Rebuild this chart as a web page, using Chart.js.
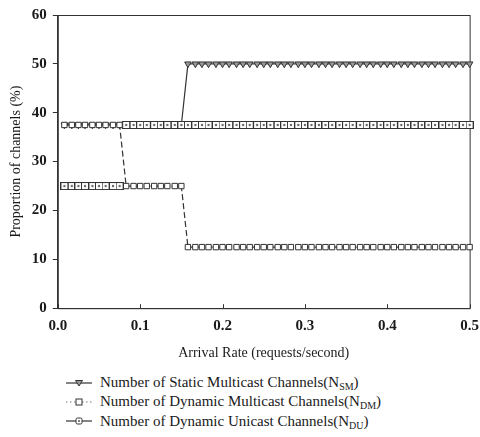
<!DOCTYPE html>
<html>
<head>
<meta charset="utf-8">
<script src="https://cdn.jsdelivr.net/npm/chart.js@4.4.0/dist/chart.umd.min.js"></script>
<style>
    body { margin: 0; background: #fff; }
    #wrap { position: relative; width: 480px; height: 437px; overflow: hidden; font-family: "Liberation Serif", "Times New Roman", serif; color: #1a1a1a; }
    #box { position: absolute; left: 0; top: 0; width: 488px; height: 365px; }
    .legend { position: absolute; left: 64px; top: 373px; font-size: 15px; line-height: 19.5px; }
    .legend div { display: flex; align-items: center; height: 19.3px; }
    .legend svg { margin-right: 6px; }
    .legend sub { font-size: 10px; vertical-align: -3px; line-height: 0; }
</style>
</head>
<body>
<div id="wrap">
    <div id="box"><canvas id="chart"></canvas></div>
    <div class="legend">
        <div>
            <svg width="30" height="10"><line x1="2" y1="5" x2="28" y2="5" stroke="#333" stroke-width="1.2"/><polygon points="11.5,2.5 18.5,2.5 15,8" fill="#999" stroke="#333" stroke-width="1"/></svg>
            <span>Number of Static Multicast Channels(N<sub>SM</sub>)</span>
        </div>
        <div>
            <svg width="30" height="10"><line x1="2" y1="5" x2="28" y2="5" stroke="#777" stroke-width="1.2" stroke-dasharray="1.5,2.5"/><rect x="12" y="2" width="6" height="6" fill="#fff" stroke="#333" stroke-width="1"/></svg>
            <span>Number of Dynamic Multicast Channels(N<sub>DM</sub>)</span>
        </div>
        <div>
            <svg width="30" height="10"><line x1="2" y1="5" x2="28" y2="5" stroke="#333" stroke-width="1.2"/><rect x="12" y="2" width="6" height="6" rx="1.5" fill="#fff" stroke="#333" stroke-width="1"/><circle cx="15" cy="5" r="1" fill="#555"/></svg>
            <span>Number of Dynamic Unicast Channels(N<sub>DU</sub>)</span>
        </div>
    </div>
</div>
<script>
// arrival rate (requests/second)
const arrivalRate = [
    0.008, 0.017, 0.025, 0.033, 0.042, 0.05, 0.058, 0.067, 0.075, 0.083,
    0.092, 0.1, 0.108, 0.117, 0.125, 0.133, 0.142, 0.15, 0.158, 0.167,
    0.175, 0.183, 0.192, 0.2, 0.208, 0.217, 0.225, 0.233, 0.242, 0.25,
    0.258, 0.267, 0.275, 0.283, 0.292, 0.3, 0.308, 0.317, 0.325, 0.333,
    0.342, 0.35, 0.358, 0.367, 0.375, 0.383, 0.392, 0.4, 0.408, 0.417,
    0.425, 0.433, 0.442, 0.45, 0.458, 0.467, 0.475, 0.483, 0.492, 0.5,
]
// proportion of channels (%)
const staticMulticast = [
    37.5, 37.5, 37.5, 37.5, 37.5, 37.5, 37.5, 37.5, 37.5, 37.5,
    37.5, 37.5, 37.5, 37.5, 37.5, 37.5, 37.5, 37.5, 50, 50,
    50, 50, 50, 50, 50, 50, 50, 50, 50, 50,
    50, 50, 50, 50, 50, 50, 50, 50, 50, 50,
    50, 50, 50, 50, 50, 50, 50, 50, 50, 50,
    50, 50, 50, 50, 50, 50, 50, 50, 50, 50,
]
const dynamicMulticast = [
    37.5, 37.5, 37.5, 37.5, 37.5, 37.5, 37.5, 37.5, 37.5, 25,
    25, 25, 25, 25, 25, 25, 25, 25, 12.5, 12.5,
    12.5, 12.5, 12.5, 12.5, 12.5, 12.5, 12.5, 12.5, 12.5, 12.5,
    12.5, 12.5, 12.5, 12.5, 12.5, 12.5, 12.5, 12.5, 12.5, 12.5,
    12.5, 12.5, 12.5, 12.5, 12.5, 12.5, 12.5, 12.5, 12.5, 12.5,
    12.5, 12.5, 12.5, 12.5, 12.5, 12.5, 12.5, 12.5, 12.5, 12.5,
]
const dynamicUnicast = [
    25, 25, 25, 25, 25, 25, 25, 25, 25, 37.5,
    37.5, 37.5, 37.5, 37.5, 37.5, 37.5, 37.5, 37.5, 37.5, 37.5,
    37.5, 37.5, 37.5, 37.5, 37.5, 37.5, 37.5, 37.5, 37.5, 37.5,
    37.5, 37.5, 37.5, 37.5, 37.5, 37.5, 37.5, 37.5, 37.5, 37.5,
    37.5, 37.5, 37.5, 37.5, 37.5, 37.5, 37.5, 37.5, 37.5, 37.5,
    37.5, 37.5, 37.5, 37.5, 37.5, 37.5, 37.5, 37.5, 37.5, 37.5,
]

const toPoints = (ys) => arrivalRate.map((x, i) => ({ x: x, y: ys[i] }))

// small square with a dot inside for the unicast markers
const duMarker = document.createElement("canvas")
duMarker.width = 8
duMarker.height = 8
const mctx = duMarker.getContext("2d")
mctx.fillStyle = "#fff"
mctx.fillRect(0.5, 0.5, 7, 7)
mctx.strokeStyle = "#333"
mctx.lineWidth = 1
mctx.strokeRect(0.5, 0.5, 7, 7)
mctx.fillStyle = "#666"
mctx.beginPath()
mctx.arc(4, 4, 1.2, 0, Math.PI * 2)
mctx.fill()

// box frame and inward ticks on the x axis
const frame = {
    id: "frame",
    beforeDatasetsDraw(chart) {
        const { ctx, chartArea: a, scales } = chart
        ctx.save()
        ctx.strokeStyle = "#333"
        ctx.lineWidth = 1
        ctx.strokeRect(a.left + 0.5, a.top + 0.5, a.right - a.left, a.bottom - a.top)
        scales.x.ticks.forEach((t) => {
            const px = Math.round(scales.x.getPixelForValue(t.value)) + 0.5
            ctx.beginPath()
            ctx.moveTo(px, a.bottom)
            ctx.lineTo(px, a.bottom - 4)
            ctx.stroke()
        })
        ctx.restore()
    },
}

const tickFont = { family: "'Liberation Serif', 'Times New Roman', serif", size: 15, weight: "bold" }
const titleFont = { family: "'Liberation Serif', 'Times New Roman', serif", size: 14 }

new Chart(document.getElementById("chart"), {
    type: "line",
    data: {
        datasets: [
            {
                label: "Number of Static Multicast Channels(NSM)",
                data: toPoints(staticMulticast),
                borderColor: "#333",
                borderWidth: 1.2,
                pointStyle: "triangle",
                pointRotation: 180,
                pointRadius: 3.8,
                pointBackgroundColor: "#999",
                pointBorderColor: "#333",
                pointBorderWidth: 1,
                order: 3,
            },
            {
                label: "Number of Dynamic Multicast Channels(NDM)",
                data: toPoints(dynamicMulticast),
                borderColor: "#333",
                borderWidth: 1.2,
                borderDash: [6, 3],
                pointStyle: "rect",
                pointRadius: 3.8,
                pointBackgroundColor: "#fff",
                pointBorderColor: "#333",
                pointBorderWidth: 1,
                order: 1,
            },
            {
                label: "Number of Dynamic Unicast Channels(NDU)",
                data: toPoints(dynamicUnicast),
                borderColor: "#333",
                borderWidth: 1.2,
                pointStyle: duMarker,
                segment: {
                    borderColor: (c) =>
                        c.p0.parsed.y !== c.p1.parsed.y ? "rgba(0,0,0,0)" : "#333",
                },
                order: 2,
            },
        ],
    },
    options: {
        responsive: true,
        maintainAspectRatio: false,
        animation: false,
        clip: false,
        layout: { padding: { left: 8, right: 0, top: 7, bottom: 3 } },
        plugins: { legend: { display: false }, tooltip: { enabled: false } },
        scales: {
            x: {
                type: "linear",
                min: 0,
                max: 0.5,
                border: { color: "#333", width: 1 },
                grid: { drawOnChartArea: false, drawTicks: false },
                ticks: {
                    stepSize: 0.1,
                    color: "#1a1a1a",
                    font: tickFont,
                    padding: 9,
                    callback: (v) => v.toFixed(1),
                },
                title: {
                    display: true,
                    text: "Arrival Rate (requests/second)",
                    color: "#1a1a1a",
                    font: titleFont,
                    padding: { top: 1, bottom: 0 },
                },
            },
            y: {
                min: 0,
                max: 60,
                border: { color: "#333", width: 1 },
                grid: { drawOnChartArea: false, color: "#333", tickLength: 5 },
                ticks: { stepSize: 10, color: "#1a1a1a", font: tickFont, padding: 6 },
                title: {
                    display: true,
                    text: "Proportion of channels (%)",
                    color: "#1a1a1a",
                    font: titleFont,
                    padding: { top: 0, bottom: 1 },
                },
            },
        },
    },
    plugins: [frame],
})
</script>
</body>
</html>
